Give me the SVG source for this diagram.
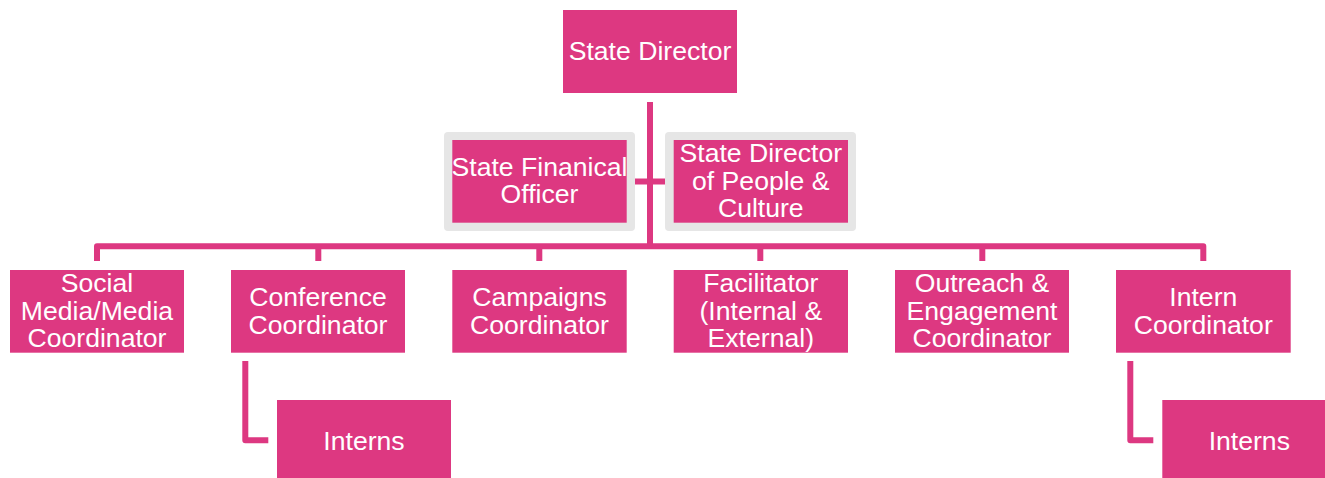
<svg xmlns="http://www.w3.org/2000/svg" width="1325" height="478" viewBox="0 0 1325 478">
  <style>
    .box { fill: #DD3881; }
    .frame { fill: #E6E6E6; }
    .lbl { font-family: "Liberation Sans", Arial, sans-serif; font-size: 26.6px; fill: #FFFFFF; text-anchor: middle; }
    .link { fill: none; stroke: #DD3881; stroke-width: 6; stroke-linejoin: round; stroke-linecap: butt; }
  </style>
  <rect width="1325" height="478" fill="#FFFFFF"/>

  <!-- connectors -->
  <g id="connectors">
    <path class="link" d="M650,102 V246"/>
    <path class="link" d="M635,181.5 H665"/>
    <path class="link" d="M97,261 V246.3 H1203.3 V261"/>
    <path class="link" d="M318.3,246 V261"/>
    <path class="link" d="M539.3,246 V261"/>
    <path class="link" d="M760.3,246 V261"/>
    <path class="link" d="M982.3,246 V261"/>
    <path class="link" d="M245.3,361 V440.3 H268.3"/>
    <path class="link" d="M1130.3,361 V440.3 H1153.3"/>
  </g>

  <!-- top -->
  <g id="state-director">
    <rect class="box" x="563" y="10" width="174" height="83"/>
    <text class="lbl" x="650" y="60">State Director</text>
  </g>

  <!-- assistants -->
  <g id="state-financial-officer">
    <rect class="frame" x="444" y="132" width="191" height="99" rx="4"/>
    <rect class="box" x="452.3" y="140" width="174.4" height="82.7"/>
    <text class="lbl" x="539.5" y="175.5">State Finanical</text>
    <text class="lbl" x="539.5" y="203">Officer</text>
  </g>
  <g id="state-director-people-culture">
    <rect class="frame" x="665" y="132" width="191" height="99" rx="4"/>
    <rect class="box" x="673.7" y="140" width="174.3" height="82.7"/>
    <text class="lbl" x="760.8" y="162">State Director</text>
    <text class="lbl" x="760.8" y="189.5">of People &amp;</text>
    <text class="lbl" x="760.8" y="217.3">Culture</text>
  </g>

  <!-- coordinators -->
  <g id="social-media-coordinator">
    <rect class="box" x="10" y="270" width="174" height="82.7"/>
    <text class="lbl" x="97" y="292">Social</text>
    <text class="lbl" x="97" y="319.5">Media/Media</text>
    <text class="lbl" x="97" y="347.2">Coordinator</text>
  </g>
  <g id="conference-coordinator">
    <rect class="box" x="231" y="270" width="174" height="82.7"/>
    <text class="lbl" x="318" y="306">Conference</text>
    <text class="lbl" x="318" y="334">Coordinator</text>
  </g>
  <g id="campaigns-coordinator">
    <rect class="box" x="452.3" y="270" width="174.4" height="82.7"/>
    <text class="lbl" x="539.5" y="306">Campaigns</text>
    <text class="lbl" x="539.5" y="334">Coordinator</text>
  </g>
  <g id="facilitator">
    <rect class="box" x="673.7" y="270" width="174.3" height="82.7"/>
    <text class="lbl" x="760.8" y="292">Facilitator</text>
    <text class="lbl" x="760.8" y="319.5">(Internal &amp;</text>
    <text class="lbl" x="760.8" y="347.2">External)</text>
  </g>
  <g id="outreach-engagement-coordinator">
    <rect class="box" x="895" y="270" width="174" height="82.7"/>
    <text class="lbl" x="982" y="292">Outreach &amp;</text>
    <text class="lbl" x="982" y="319.5">Engagement</text>
    <text class="lbl" x="982" y="347.2">Coordinator</text>
  </g>
  <g id="intern-coordinator">
    <rect class="box" x="1116" y="270" width="174.7" height="82.7"/>
    <text class="lbl" x="1203.3" y="306">Intern</text>
    <text class="lbl" x="1203.3" y="334">Coordinator</text>
  </g>

  <!-- interns -->
  <g id="interns-conference">
    <rect class="box" x="277" y="400" width="174" height="83"/>
    <text class="lbl" x="364" y="450">Interns</text>
  </g>
  <g id="interns-intern-coordinator">
    <rect class="box" x="1162.3" y="400" width="174" height="83"/>
    <text class="lbl" x="1249.3" y="450">Interns</text>
  </g>
</svg>
